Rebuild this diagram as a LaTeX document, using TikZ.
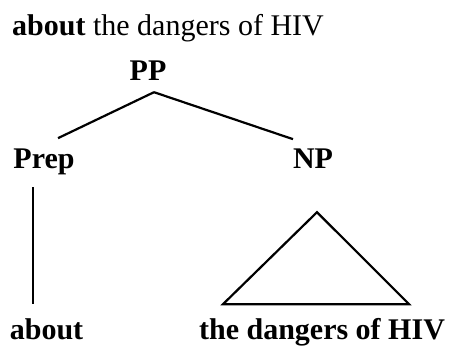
\documentclass[tikz,border=0pt]{standalone}
\usepackage{fontspec}
\setmainfont{Liberation Serif}
\usepackage{tikz}
\usetikzlibrary{positioning}
\tikzstyle{label_txt} = [inner sep=0pt, anchor=base, font=\fontsize{30}{36}\selectfont\bfseries]
\tikzstyle{title_txt} = [inner sep=0pt, anchor=base west, font=\fontsize{30}{36}\selectfont]
\tikzstyle{branch} = [line width=2.2pt, line join=miter]

\begin{document}
\begin{tikzpicture}[x=1pt,y=-1pt]
        \fill[white] (0,0) rectangle (457,351);
        \useasboundingbox (0,0) rectangle (457,351);
        \node (title)[title_txt] at (12,35) {\textbf{about} the dangers of HIV};
        \node (PP)[label_txt] at (148,80) {PP};
        \node (Prep)[label_txt] at (44,168) {Prep};
        \node (NP)[label_txt] at (313,168) {NP};
        \node (about)[label_txt] at (46.5,339) {about};
        \node (dangers)[label_txt] at (322,339) {the dangers of HIV};
        \draw [branch] ([xshift=6pt,yshift=-12pt]PP.south) -- ([xshift=14pt,yshift=10pt]Prep.north);
        \draw [branch] ([xshift=6pt,yshift=-12pt]PP.south) -- ([xshift=-20pt,yshift=9pt]NP.north);
        \draw [branch] ([xshift=-11pt,yshift=-12.5pt]Prep.south) -- ([xshift=-13.5pt,yshift=14pt]about.north);
        \draw [branch] ([xshift=4pt,yshift=-44pt]NP.south) -- ([xshift=-99pt,yshift=13.5pt]dangers.north)
                -- ([xshift=87pt,yshift=13.5pt]dangers.north) -- cycle;
    \end{tikzpicture}
\end{document}
